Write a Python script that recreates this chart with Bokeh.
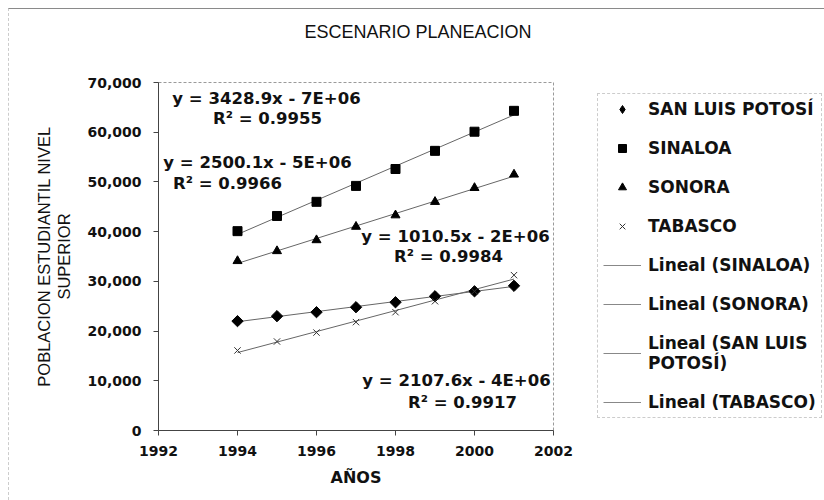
import numpy as np
from bokeh.plotting import figure
from bokeh.layouts import row
from bokeh.models import (Range1d, Legend, LegendItem, Label, Title,
                          NumeralTickFormatter, FixedTicker)
from bokeh.embed import file_html
from bokeh.resources import INLINE

# Student population, higher education, by state
years = [1994, 1995, 1996, 1997, 1998, 1999, 2000, 2001]
san_luis = [22000, 23000, 23800, 24800, 25800, 27000, 28000, 29100]
sinaloa = [40100, 43150, 46000, 49200, 52600, 56250, 60100, 64300]
sonora = [34100, 36100, 38300, 41000, 43300, 46000, 48800, 51500]
tabasco = [16100, 17900, 19700, 21800, 23800, 26000, 28000, 31250]

# Trendline equations as reported for each series
eq_sinaloa = ["y = 3428.9x - 7E+06", "R² = 0.9955"]
eq_sonora = ["y = 2500.1x - 5E+06", "R² = 0.9966"]
eq_san_luis = ["y = 1010.5x - 2E+06", "R² = 0.9984"]
eq_tabasco = ["y = 2107.6x - 4E+06", "R² = 0.9917"]

x_ticks = [1992, 1994, 1996, 1998, 2000, 2002]
y_ticks = [0, 10000, 20000, 30000, 40000, 50000, 60000, 70000]

# ---- page geometry (pixels on the 824x500 page) ----
PAD = 9                      # outer margin + border of the chart area
H = 500 - PAD
SPLIT = 575                  # where the legend panel begins
FL, FR, FT, FB = 158, 553, 82, 430   # frame edges on the page
X0, X1, Y0, Y1 = 1992, 2002, 0, 70000

def px(x):
    return X0 + (x - FL) / (FR - FL) * (X1 - X0)

def py(y):
    return Y0 + (FB - y) / (FB - FT) * (Y1 - Y0)

VERD = "DejaVu Sans"
ARIAL = "Liberation Sans"

p = figure(width=SPLIT - PAD, height=H, output_backend="svg", toolbar_location=None,
           title=None, x_range=Range1d(X0, X1), y_range=Range1d(Y0, Y1),
           min_border_left=FL - PAD, min_border_right=SPLIT - FR,
           min_border_top=FT - PAD, min_border_bottom=500 - FB)
p.background_fill_color = "white"
p.border_fill_color = "white"
p.outline_line_color = "#9a9a9a"
p.outline_line_dash = "3 2"
p.xgrid.visible = False
p.ygrid.visible = False

# chart title, held off the frame by an empty spacer title
p.add_layout(Title(text=" ", text_font_size="1px", standoff=38), "above")
p.add_layout(Title(text="ESCENARIO PLANEACION", align="left", offset=146,
                   standoff=0, text_font=ARIAL, text_font_size="18px",
                   text_font_style="normal", text_color="#111111"), "above")

for ax in (p.xaxis[0], p.yaxis[0]):
    ax.axis_line_color = "#444444"
    ax.major_tick_line_color = "#444444"
    ax.minor_tick_line_color = None
    ax.major_tick_in = 0
    ax.major_tick_out = 5
    ax.major_label_text_font = VERD
    ax.major_label_text_font_size = "14px"
    ax.major_label_text_font_style = "bold"
    ax.major_label_text_color = "#111111"

p.xaxis.ticker = FixedTicker(ticks=x_ticks)
p.yaxis.ticker = FixedTicker(ticks=y_ticks)
p.yaxis.formatter = NumeralTickFormatter(format="0,0")
p.yaxis.major_label_standoff = 12
p.xaxis.major_label_standoff = 10
p.xaxis.axis_label = "AÑOS"
p.xaxis.axis_label_text_font = VERD
p.xaxis.axis_label_text_font_size = "16px"
p.xaxis.axis_label_text_font_style = "bold"
p.xaxis.axis_label_standoff = 9
p.xaxis.axis_label_text_color = "#111111"

# y axis label on two centred lines: inner line on the axis, outer line as a side title
p.yaxis.axis_label = "SUPERIOR"
p.yaxis.axis_label_text_font = ARIAL
p.yaxis.axis_label_text_font_size = "16.5px"
p.yaxis.axis_label_text_font_style = "normal"
p.yaxis.axis_label_text_color = "#111111"
p.yaxis.axis_label_standoff = 11
p.add_layout(Title(text="POBLACION ESTUDIANTIL NIVEL", align="center",
                   text_font=ARIAL, text_font_size="16.5px",
                   text_font_style="normal", text_color="#111111", standoff=0),
             "left")

LINE = "#666666"

def trend(vals):
    m, b = np.polyfit(years, vals, 1)
    return [m * x + b for x in years]

p.line(years, trend(sinaloa), line_color=LINE, line_width=1)
p.line(years, trend(sonora), line_color=LINE, line_width=1)
p.line(years, trend(san_luis), line_color=LINE, line_width=1)
p.line(years, trend(tabasco), line_color=LINE, line_width=1)

p.scatter(years, san_luis, marker="square", angle=np.pi / 4, size=8,
          fill_color="black", line_color="black")
p.scatter(years, sinaloa, marker="square", size=9,
          fill_color="black", line_color="black")
p.scatter(years, sonora, marker="triangle", size=9,
          fill_color="black", line_color="black")
p.scatter(years, tabasco, marker="x", size=9,
          line_color="#333333", line_width=1)

# trendline equations
EQ_FONT = "16.5px"
eq_pos = [
    (eq_sinaloa, (266, 98), (267, 118)),
    (eq_sonora, (257, 162), (227, 183)),
    (eq_san_luis, (455, 236), (448, 256)),
    (eq_tabasco, (456, 380), (462, 402)),
]
for lines, a, b in eq_pos:
    for txt, (x, y) in zip(lines, (a, b)):
        p.add_layout(Label(x=px(x), y=py(y), text=txt, text_align="center",
                           text_baseline="middle", text_font=VERD,
                           text_font_size=EQ_FONT, text_font_style="bold",
                           text_color="#111111"))

# ---- legend panel (its frame lines up with the chart frame) ----
pl = figure(width=824 - SPLIT, height=H, output_backend="svg", toolbar_location=None,
            title=None, x_range=Range1d(0, 1), y_range=Range1d(0, 1),
            x_axis_location=None, y_axis_location=None,
            min_border_left=0, min_border_right=0, min_border_top=0, min_border_bottom=0)
pl.outline_line_color = None
pl.grid.visible = False
pl.background_fill_color = "white"
pl.border_fill_color = "white"

# key glyphs: first point of each series, outside this panel's view
KEY_LINE = "#888888"
k_slp = pl.scatter(years[:1], san_luis[:1], marker="diamond", size=9,
                   fill_color="black", line_color="black")
k_sin = pl.scatter(years[:1], sinaloa[:1], marker="square", size=9,
                   fill_color="black", line_color="black")
k_son = pl.scatter(years[:1], sonora[:1], marker="triangle", size=9,
                   fill_color="black", line_color="black")
k_tab = pl.scatter(years[:1], tabasco[:1], marker="x", size=9,
                   line_color="#333333", line_width=1)
k_l_sin = pl.line(years[:2], sinaloa[:2], line_color=KEY_LINE, line_width=1)
k_l_son = pl.line(years[:2], sonora[:2], line_color=KEY_LINE, line_width=1)
k_l_slp = pl.line(years[:2], san_luis[:2], line_color=KEY_LINE, line_width=1)
k_l_tab = pl.line(years[:2], tabasco[:2], line_color=KEY_LINE, line_width=1)

LEG_FONT = "17px"
legend = Legend(items=[
    LegendItem(label="SAN LUIS POTOSÍ", renderers=[k_slp]),
    LegendItem(label="SINALOA", renderers=[k_sin]),
    LegendItem(label="SONORA", renderers=[k_son]),
    LegendItem(label="TABASCO", renderers=[k_tab]),
    LegendItem(label="Lineal (SINALOA)", renderers=[k_l_sin]),
    LegendItem(label="Lineal (SONORA)", renderers=[k_l_son]),
    LegendItem(label="Lineal (SAN LUIS\nPOTOSÍ)", renderers=[k_l_slp]),
    LegendItem(label="Lineal (TABASCO)", renderers=[k_l_tab]),
], location=(597 - SPLIT, FB - 418))
legend.label_text_font = VERD
legend.label_text_font_size = LEG_FONT
legend.label_text_font_style = "bold"
legend.label_text_color = "#111111"
legend.glyph_width = 38
legend.glyph_height = 20
legend.label_height = 20
legend.label_standoff = 7
legend.padding = 5
legend.spacing = 19
legend.margin = 0
legend.border_line_color = "#9a9a9a"
legend.border_line_dash = "3 2"
legend.background_fill_color = "white"
legend.background_fill_alpha = 1
pl.add_layout(legend)

page = row(p, pl)
page.styles = {"margin-top": "8px", "margin-left": "8px",
               "border-top": "1px solid #8a8a8a", "border-left": "1px dashed #cccccc"}

open("out.html", "w").write(file_html(page, INLINE))
